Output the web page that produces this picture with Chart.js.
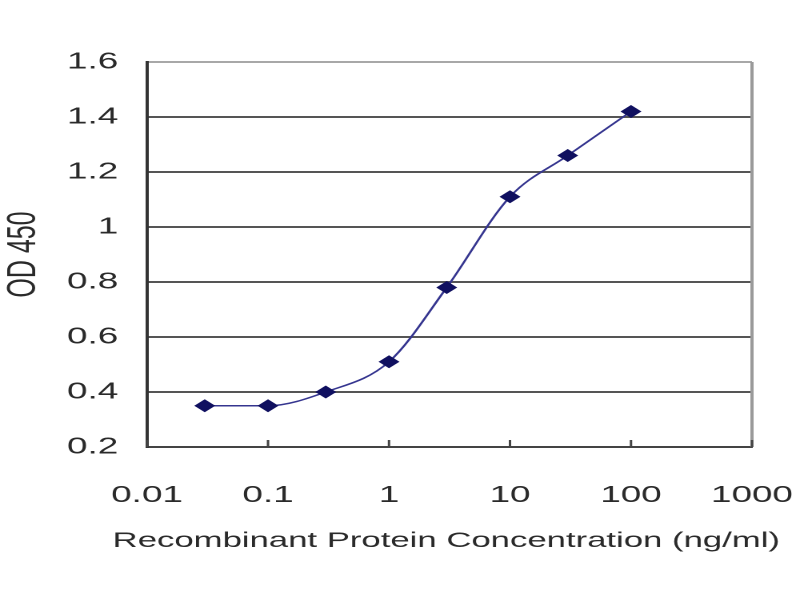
<!DOCTYPE html>
<html>
<head>
<meta charset="utf-8">
<script src="https://cdn.jsdelivr.net/npm/chart.js@4/dist/chart.umd.min.js"></script>
<style>
  html, body { margin: 0; padding: 0; background: #fff; overflow: hidden; }
  /* the source picture is stretched sideways, so the whole chart is too */
  #wrap { width: 500px; height: 600px; transform: scaleX(1.6); transform-origin: 0 0; }
</style>
</head>
<body>
<div id="wrap"><canvas id="od_chart"></canvas></div>
<script>
// concentration (ng/ml) and OD 450 readings
const concentrations = [0.03, 0.1, 0.3, 1, 3, 10, 30, 100]
const odValues = [0.35, 0.35, 0.40, 0.51, 0.78, 1.11, 1.26, 1.42]
const xTicks = [0.01, 0.1, 1, 10, 100, 1000]
const xTickLabels = ['0.01', '0.1', '1', '10', '100', '1000']
const xTitle = 'Recombinant Protein Concentration (ng/ml)'
const yTitle = 'OD 450'

const txt = '#2a2a2a'
const family = 'Liberation Sans, Arial, sans-serif'

// right frame line, small upward ticks on the x axis, and the x title
// (drawn here so it is not squeezed to the plot width like the scale title)
const frame = {
  id: 'frame',
  afterDatasetsDraw(chart) {
    const { ctx, chartArea: a, scales } = chart
    ctx.save()
    ctx.strokeStyle = '#9a9a9a'
    ctx.lineWidth = 2
    ctx.beginPath()
    ctx.moveTo(a.right, a.top)
    ctx.lineTo(a.right, a.bottom)
    ctx.stroke()
    ctx.strokeStyle = '#444'
    ctx.lineWidth = 1.5
    xTicks.forEach(v => {
      const px = scales.x.getPixelForValue(v)
      ctx.beginPath()
      ctx.moveTo(px, a.bottom)
      ctx.lineTo(px, a.bottom - 7)
      ctx.stroke()
    })
    ctx.fillStyle = txt
    ctx.font = '21.7px ' + family
    ctx.textAlign = 'center'
    ctx.textBaseline = 'middle'
    ctx.fillText(xTitle, (a.left + a.right) / 2 - 2, a.bottom + 94)
    ctx.restore()
  }
}

new Chart(document.getElementById('od_chart'), {
  type: 'line',
  data: {
    datasets: [{
      data: concentrations.map((c, i) => ({ x: c, y: odValues[i] })),
      borderColor: '#35358f',
      borderWidth: 1.5,
      backgroundColor: '#101060',
      pointBackgroundColor: '#101060',
      pointBorderColor: '#101060',
      pointStyle: 'rectRot',
      pointRadius: 5.5,
      cubicInterpolationMode: 'monotone',
      fill: false
    }]
  },
  options: {
    responsive: true,
    maintainAspectRatio: false,
    animation: false,
    devicePixelRatio: 2,
    layout: { padding: { left: 0, right: 30, top: 62, bottom: 0 } },
    plugins: { legend: { display: false }, tooltip: { enabled: false } },
    scales: {
      x: {
        type: 'logarithmic',
        min: 0.01,
        max: 1000,
        afterBuildTicks: s => { s.ticks = xTicks.map(v => ({ value: v })) },
        afterFit: s => { s.height = 153; s.paddingLeft = 0; s.paddingRight = 0 },
        ticks: {
          autoSkip: false,
          maxRotation: 0,
          padding: 35,
          color: txt,
          font: { family, size: 23 },
          callback: (v, i) => xTickLabels[i]
        },
        grid: { drawOnChartArea: false, drawTicks: false },
        border: { display: true, color: '#444', width: 2 },
        title: { display: false }
      },
      y: {
        min: 0.2,
        max: 1.6,
        afterFit: s => { s.width = 91.9 },
        ticks: {
          stepSize: 0.2,
          padding: 18,
          color: txt,
          font: { family, size: 23 },
          callback: v => String(parseFloat(v.toFixed(1)))
        },
        grid: {
          drawTicks: false,
          color: c => (c.tick && c.tick.value > 1.55) ? '#a8a8a8' : '#555',
          lineWidth: 2
        },
        border: { display: true, color: '#333', width: 2 },
        title: {
          display: true,
          text: yTitle,
          color: txt,
          font: { family, size: 25 },
          padding: { top: 0, bottom: 0 }
        }
      }
    }
  },
  plugins: [frame]
})
</script>
</body>
</html>
